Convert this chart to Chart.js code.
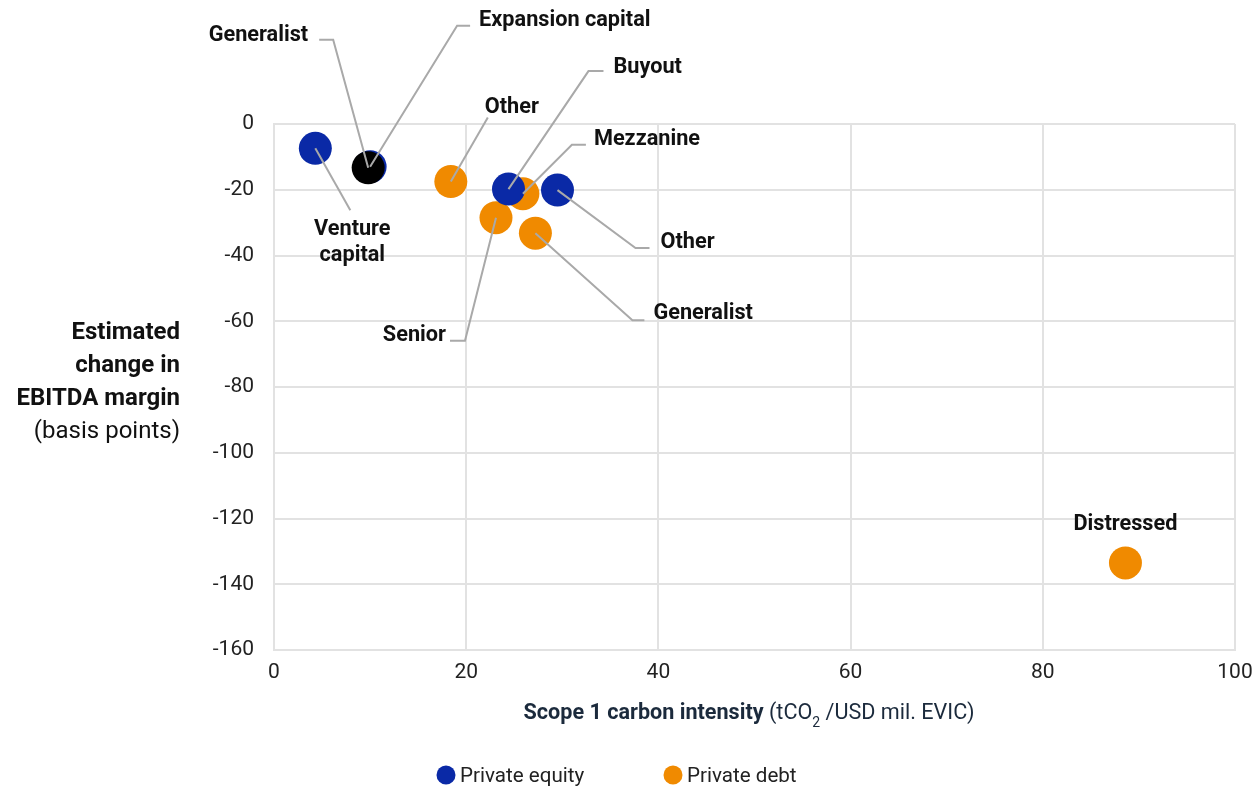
<!DOCTYPE html>
<html>
<head>
<meta charset="utf-8">
<script src="https://cdn.jsdelivr.net/npm/chart.js@4.4.1/dist/chart.umd.min.js"></script>
<style>
  html, body { margin: 0; padding: 0; background: #fff; }
</style>
</head>
<body>
<canvas id="chart" width="1258" height="787"></canvas>
<script>
// Private equity strategies
const peNames = ['Venture capital', 'Expansion capital', 'Generalist', 'Buyout', 'Other'];
const peX = [4.3, 10.0, 9.8, 24.4, 29.5];
const peY = [-7.4, -13.0, -13.3, -19.8, -20.1];

// Private debt strategies
const pdNames = ['Other', 'Mezzanine', 'Senior', 'Generalist', 'Distressed'];
const pdX = [18.4, 25.9, 23.1, 27.2, 88.6];
const pdY = [-17.5, -21.2, -28.5, -33.2, -133.5];

const xTicks = [0, 20, 40, 60, 80, 100];
const yTicks = [0, -20, -40, -60, -80, -100, -120, -140, -160];

const BLUE = '#0a29a6';
const ORANGE = '#f08a00';
const GRID = '#e2e2e2';
const LEADER = '#a9a9a9';

// where each callout sits, in pixels from its point
const peLabels = [
  { wrap: true, dx: 37, dy: 81, align: 'center', path: [[0, 0], [35, 62]] },
  { dx: 109, dy: -146, align: 'left', path: [[0, 0], [87, -141], [100, -141]] },
  { dx: -60, dy: -132, align: 'right', path: [[0, 0], [-35, -128], [-49, -128]] },
  { dx: 105, dy: -122, align: 'left', path: [[0, 0], [80, -118], [95, -118]] },
  { dx: 103, dy: 52, align: 'left', path: [[0, 0], [78, 58], [92, 58]] }
];
const pdLabels = [
  { dx: 61, dy: -74, align: 'center', path: [[0, 0], [37, -64]] },
  { dx: 71, dy: -54, align: 'left', path: [[0, 0], [49, -49], [63, -49]] },
  { dx: -50, dy: 118, align: 'right', path: [[0, 0], [-31, 123], [-46, 123]] },
  { dx: 118, dy: 80, align: 'left', path: [[0, 0], [97, 87], [109, 87]] },
  { dx: 0, dy: -38, align: 'center', path: [] }
];

const peColors = peNames.map(n => n === 'Generalist' ? '#000000' : BLUE);

function drawCallouts(chart, dsIndex, names, layout) {
  const ctx = chart.ctx;
  const meta = chart.getDatasetMeta(dsIndex);
  meta.data.forEach((pt, i) => {
    const lay = layout[i];
    if (lay.path.length) {
      ctx.beginPath();
      ctx.strokeStyle = LEADER;
      ctx.lineWidth = 2;
      lay.path.forEach((p, j) => {
        if (j === 0) ctx.moveTo(pt.x + p[0], pt.y + p[1]);
        else ctx.lineTo(pt.x + p[0], pt.y + p[1]);
      });
      ctx.stroke();
    }
    const lines = lay.wrap ? names[i].split(' ') : [names[i]];
    ctx.font = 'bold 21.7px Roboto';
    ctx.fillStyle = '#111';
    ctx.textAlign = lay.align;
    ctx.textBaseline = 'middle';
    lines.forEach((t, k) => {
      ctx.fillText(t, pt.x + lay.dx, pt.y + lay.dy + k * 26);
    });
  });
}

const extras = {
  id: 'extras',
  afterDatasetsDraw(chart) {
    const ctx = chart.ctx;
    ctx.save();
    drawCallouts(chart, 1, pdNames, pdLabels);
    drawCallouts(chart, 0, peNames, peLabels);
    ctx.restore();
  },
  afterDraw(chart) {
    const ctx = chart.ctx;
    ctx.save();

    // y axis title
    ctx.textAlign = 'right';
    ctx.textBaseline = 'middle';
    ctx.fillStyle = '#111';
    ctx.font = 'bold 24px Roboto';
    ctx.fillText('Estimated', 180, 333);
    ctx.fillText('change in', 180, 366);
    ctx.fillText('EBITDA margin', 180, 399);
    ctx.font = '24px Roboto';
    ctx.fillText('(basis points)', 180, 432);

    // x axis title
    const bold = 'Scope 1 carbon intensity ';
    const p1 = '(tCO';
    const sub = '2';
    const p2 = ' /USD mil. EVIC)';
    ctx.fillStyle = '#1b2a3c';
    ctx.font = 'bold 21.6px Roboto';
    const wb = ctx.measureText(bold).width;
    ctx.font = '21.6px Roboto';
    const w1 = ctx.measureText(p1).width;
    const w2 = ctx.measureText(p2).width;
    ctx.font = '14px Roboto';
    const ws = ctx.measureText(sub).width;
    let x = 749 - (wb + w1 + ws + w2) / 2;
    const y = 714;
    ctx.textAlign = 'left';
    ctx.font = 'bold 21.6px Roboto';
    ctx.fillText(bold, x, y); x += wb;
    ctx.font = '21.6px Roboto';
    ctx.fillText(p1, x, y); x += w1;
    ctx.font = '14px Roboto';
    ctx.fillText(sub, x, y + 9); x += ws;
    ctx.font = '21.6px Roboto';
    ctx.fillText(p2, x, y);

    // legend
    const items = chart.data.datasets.map(d => d.label);
    const legendX = [446, 673];
    const legendColors = [BLUE, ORANGE];
    items.forEach((label, i) => {
      ctx.beginPath();
      ctx.fillStyle = legendColors[i];
      ctx.arc(legendX[i], 775, 9.5, 0, Math.PI * 2);
      ctx.fill();
      ctx.fillStyle = '#222';
      ctx.font = '20.6px Roboto';
      ctx.textAlign = 'left';
      ctx.fillText(label, legendX[i] + 14, 777);
    });

    ctx.restore();
  }
};

const ctx = document.getElementById('chart');

new Chart(ctx, {
  type: 'scatter',
  data: {
    datasets: [
      {
        label: 'Private equity',
        data: peX.map((v, i) => ({ x: v, y: peY[i] })),
        backgroundColor: peColors,
        pointRadius: 16.5,
        pointHoverRadius: 16.5,
        borderWidth: 0
      },
      {
        label: 'Private debt',
        data: pdX.map((v, i) => ({ x: v, y: pdY[i] })),
        backgroundColor: ORANGE,
        pointRadius: 16.5,
        pointHoverRadius: 16.5,
        borderWidth: 0
      }
    ]
  },
  options: {
    responsive: false,
    animation: false,
    layout: { padding: { top: 124, right: 23, bottom: 0, left: 0 } },
    plugins: {
      legend: { display: false },
      tooltip: { enabled: false }
    },
    scales: {
      x: {
        type: 'linear',
        min: 0,
        max: 100,
        afterBuildTicks: s => { s.ticks = xTicks.map(v => ({ value: v })); },
        afterFit: s => { s.height = 137; s.paddingLeft = 0; s.paddingRight = 0; },
        grid: { color: GRID, lineWidth: 2, drawTicks: false },
        border: { color: GRID, width: 2 },
        ticks: { padding: 10, color: '#222', font: { family: 'Roboto', size: 21 } }
      },
      y: {
        type: 'linear',
        min: -160,
        max: 0,
        afterBuildTicks: s => { s.ticks = yTicks.map(v => ({ value: v })); },
        afterFit: s => { s.width = 274; s.paddingTop = 0; s.paddingBottom = 0; },
        grid: { color: GRID, lineWidth: 2, drawTicks: false },
        border: { color: GRID, width: 2 },
        ticks: { padding: 20, color: '#222', font: { family: 'Roboto', size: 21 } }
      }
    }
  },
  plugins: [extras]
});
</script>
</body>
</html>
